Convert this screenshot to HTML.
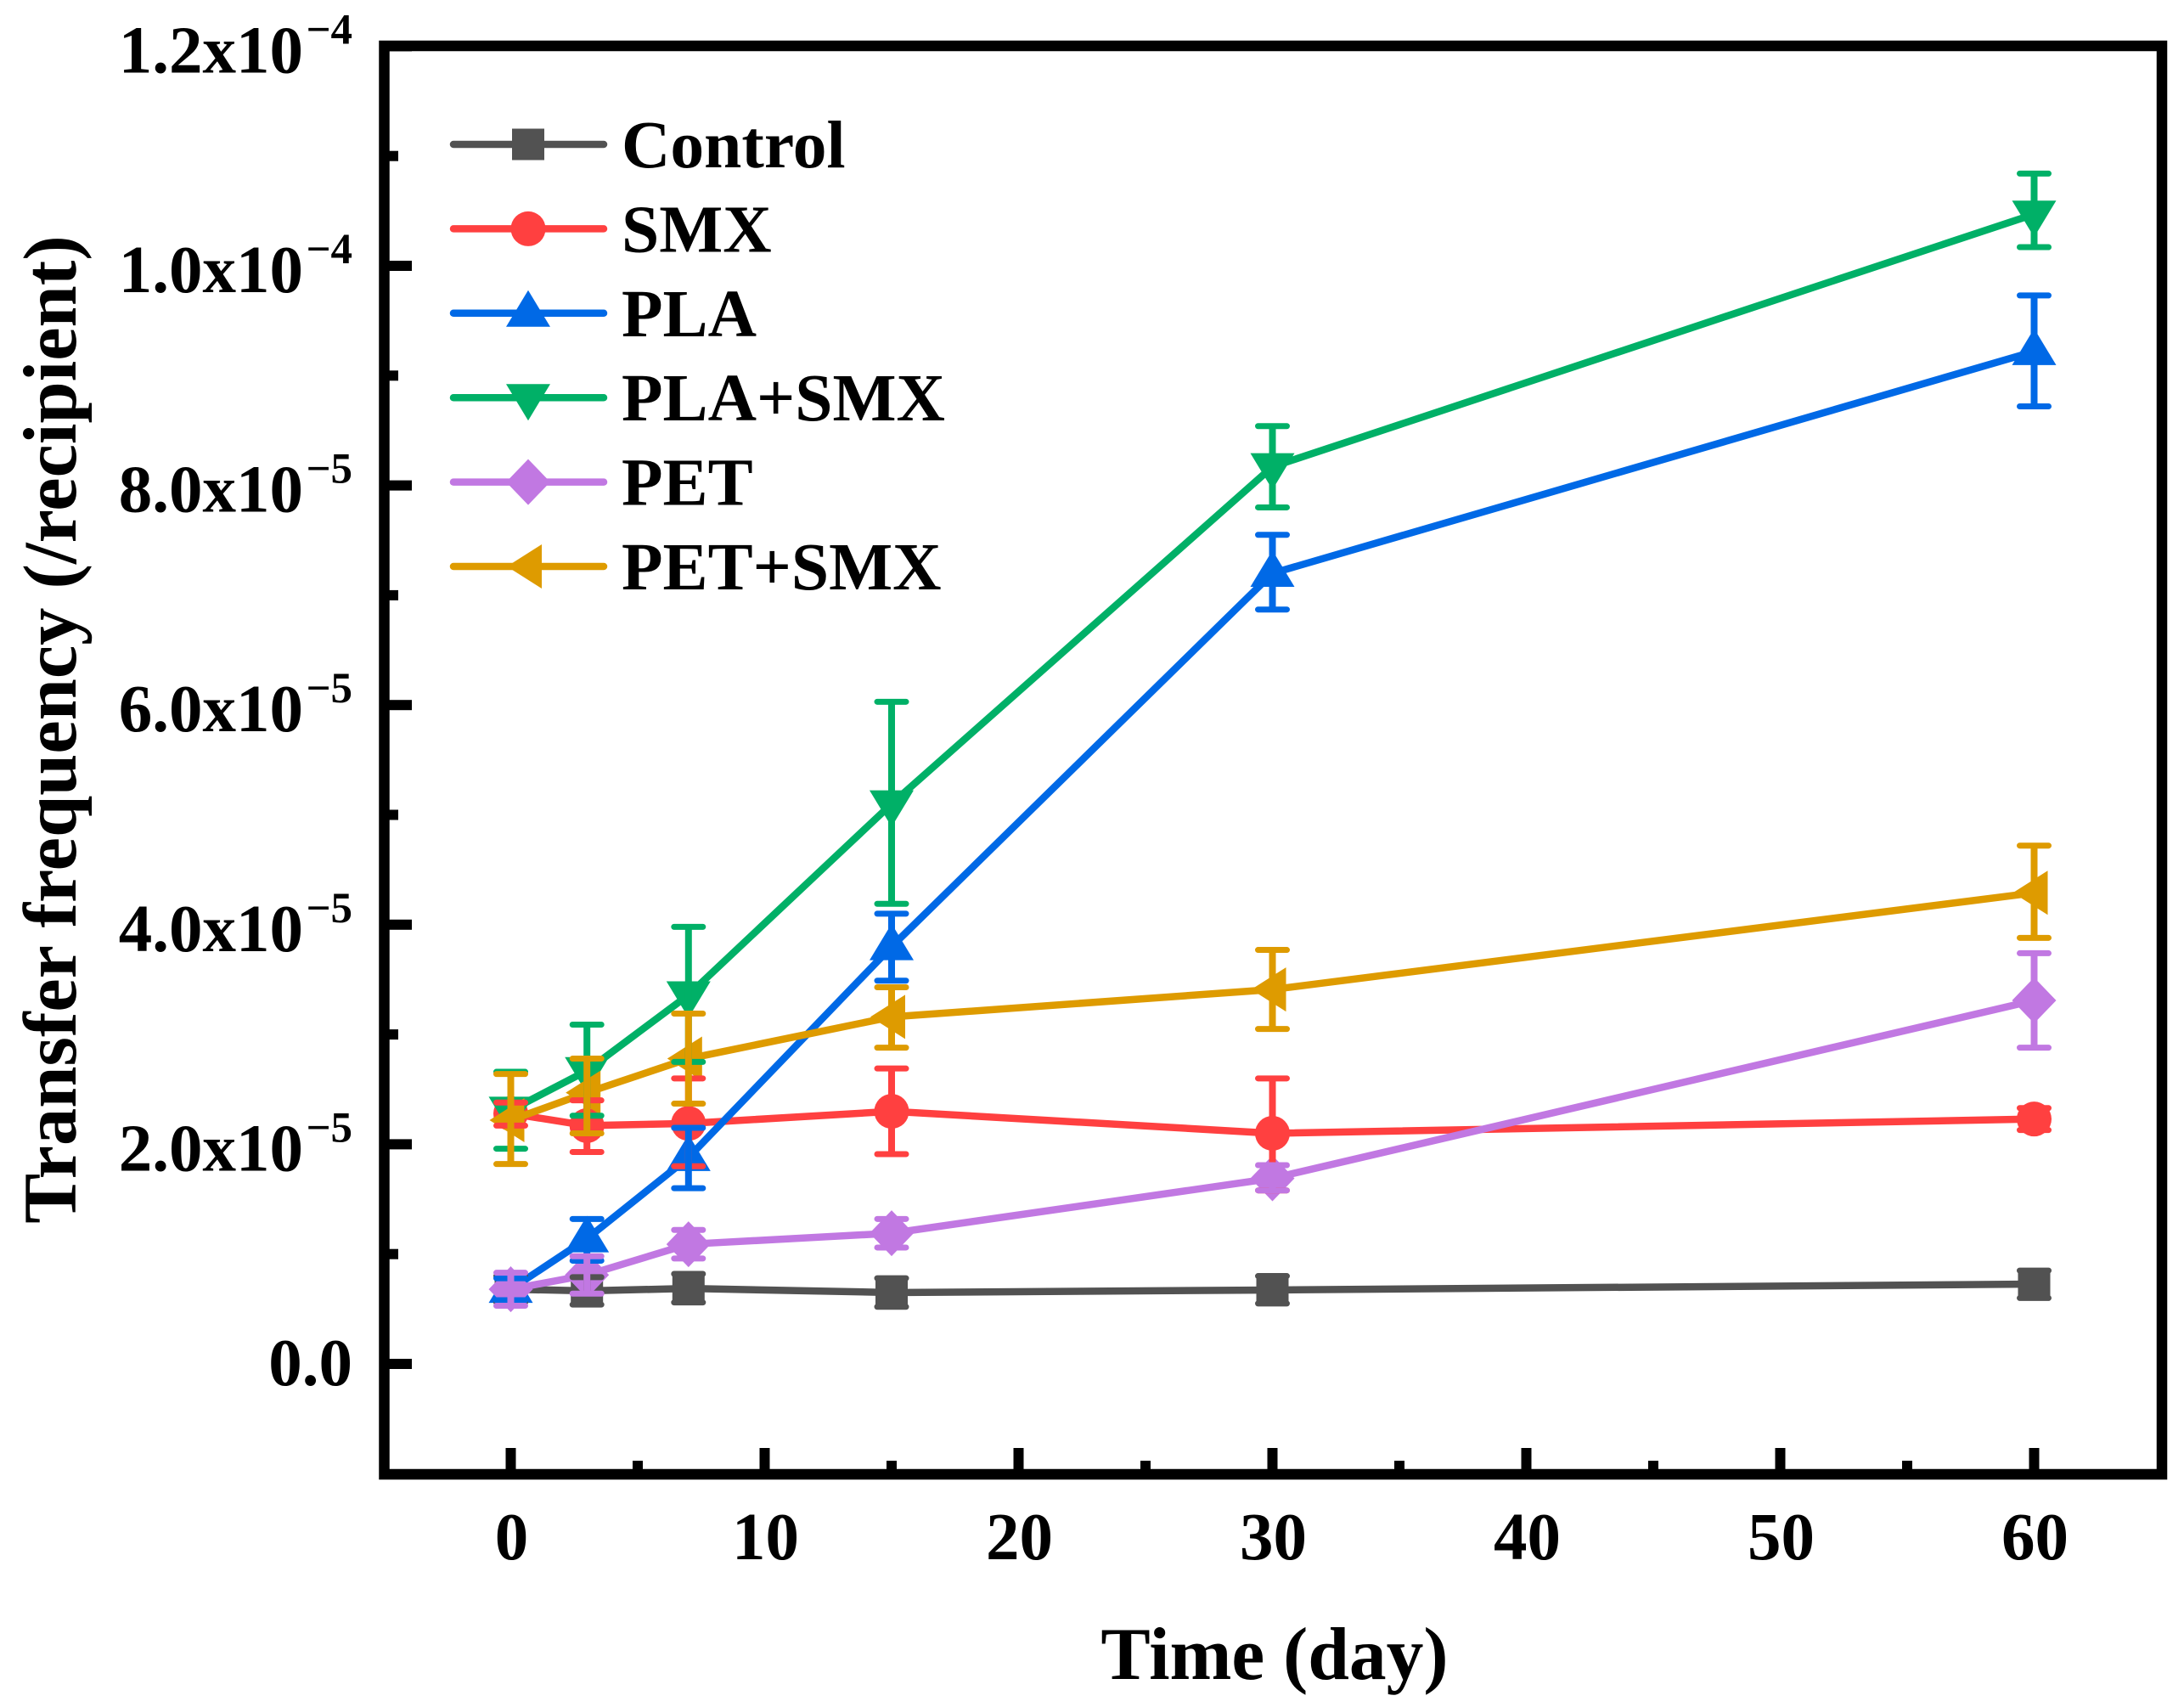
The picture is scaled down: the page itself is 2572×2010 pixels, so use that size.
<!DOCTYPE html>
<html lang="en">
<head>
<meta charset="utf-8">
<title>Transfer frequency over time</title>
<style>
  html, body { margin: 0; padding: 0; background: #fff; }
  svg { display: block; }
  text { font-family: "Liberation Serif", serif; font-weight: bold; fill: #000; }
</style>
</head>
<body>
<svg id="chart" xmlns="http://www.w3.org/2000/svg" width="2572" height="2010" viewBox="0 0 2572 2010">
  <rect x="0" y="0" width="2572" height="2010" fill="#fff"/>
  <g id="series-layer"></g>
  <g id="error-layer"></g>
  <g id="axis-layer"></g>
  <rect x="452.5" y="54" width="2093.5" height="1682" fill="none" stroke="#000" stroke-width="12.5"/>
  <text x="1501" y="1977" font-size="87.5" text-anchor="middle">Time (day)</text>
  <text transform="translate(89 859) rotate(-90)" x="0" y="0" font-size="88.5" text-anchor="middle">Transfer frequency (/recipient)</text>
  <g id="legend-layer"></g>
</svg>
<script>
const days = [0, 3, 7, 15, 30, 60];

const seriesNames = ["Control", "SMX", "PLA", "PLA+SMX", "PET", "PET+SMX"];

const controlMean = [0.68, 0.665, 0.687, 0.65, 0.673, 0.727];
const controlHigh = [0.80, 0.79, 0.82, 0.78, 0.80, 0.85];
const controlLow = [0.56, 0.54, 0.56, 0.52, 0.55, 0.60];

const smxMean = [2.28, 2.17, 2.19, 2.30, 2.10, 2.23];
const smxHigh = [2.38, 2.40, 2.60, 2.69, 2.60, 2.33];
const smxLow = [2.17, 1.93, 1.80, 1.91, 1.58, 2.13];

const plaMean = [0.68, 1.14, 1.88, 3.80, 7.20, 9.22];
const plaHigh = [0.78, 1.32, 2.15, 4.10, 7.55, 9.73];
const plaLow = [0.58, 0.94, 1.60, 3.49, 6.87, 8.72];

const plaSmxMean = [2.31, 2.67, 3.36, 5.10, 8.17, 10.47];
const plaSmxHigh = [2.66, 3.09, 3.98, 6.03, 8.54, 10.84];
const plaSmxLow = [1.96, 2.26, 2.75, 4.19, 7.80, 10.17];

const petMean = [0.68, 0.81, 1.09, 1.19, 1.69, 3.31];
const petHigh = [0.83, 0.98, 1.22, 1.32, 1.81, 3.74];
const petLow = [0.53, 0.64, 0.96, 1.06, 1.58, 2.88];

const petSmxMean = [2.22, 2.47, 2.78, 3.16, 3.41, 4.29];
const petSmxHigh = [2.64, 2.78, 3.19, 3.43, 3.77, 4.72];
const petSmxLow = [1.82, 2.10, 2.37, 2.88, 3.05, 3.88];

const xTickValues = [0, 10, 20, 30, 40, 50, 60];
const xMinorTickValues = [5, 15, 25, 35, 45, 55];
const yTickValues = [0, 2, 4, 6, 8, 10, 12];
const yTickLabels = ["0.0", "2.0x10", "4.0x10", "6.0x10", "8.0x10", "1.0x10", "1.2x10"];
const yTickExponents = ["", "\u22125", "\u22125", "\u22125", "\u22125", "\u22124", "\u22124"];
const yMinorTickValues = [1, 3, 5, 7, 9, 11];

const NS = "http://www.w3.org/2000/svg";
function xScale(day) { return 601.5 + (day - 0) * 29.9; }
function yScale(value) { return 1606 - value * 129.3; }

const seriesStyles = [
  { key: "control", color: "#525252", shape: "square" },
  { key: "smx", color: "#ff4040", shape: "circle" },
  { key: "pla", color: "#0069e6", shape: "up" },
  { key: "pla-smx", color: "#00b067", shape: "down" },
  { key: "pet", color: "#c178e2", shape: "diamond" },
  { key: "pet-smx", color: "#de9b00", shape: "left" }
];
const seriesMeans = [controlMean, smxMean, plaMean, plaSmxMean, petMean, petSmxMean];
const seriesHighs = [controlHigh, smxHigh, plaHigh, plaSmxHigh, petHigh, petSmxHigh];
const seriesLows = [controlLow, smxLow, plaLow, plaSmxLow, petLow, petSmxLow];

function make(tag, attrs, parent) {
  const el = document.createElementNS(NS, tag);
  Object.keys(attrs).forEach(function (k) { el.setAttribute(k, attrs[k]); });
  parent.appendChild(el);
  return el;
}

function shapePoints(shape, cx, cy) {
  if (shape === "square") return [[cx - 19, cy - 18.5], [cx + 19, cy - 18.5], [cx + 19, cy + 18.5], [cx - 19, cy + 18.5]];
  if (shape === "up") return [[cx, cy - 27], [cx + 26, cy + 16], [cx - 26, cy + 16]];
  if (shape === "down") return [[cx, cy + 27], [cx + 26, cy - 16], [cx - 26, cy - 16]];
  if (shape === "left") return [[cx - 25, cy], [cx + 16, cy - 26], [cx + 16, cy + 26]];
  return [[cx, cy - 27], [cx + 26, cy], [cx, cy + 27], [cx - 26, cy]];
}

function drawMarker(style, cx, cy, parent) {
  let el;
  if (style.shape === "circle") {
    el = make("circle", { cx: cx, cy: cy, r: 20.5, fill: style.color }, parent);
  } else {
    const pts = shapePoints(style.shape, cx, cy).map(function (p) { return p.join(","); }).join(" ");
    el = make("polygon", { points: pts, fill: style.color }, parent);
  }
  return el;
}

const seriesLayer = document.getElementById("series-layer");
const errorLayer = document.getElementById("error-layer");
const axisLayer = document.getElementById("axis-layer");
const legendLayer = document.getElementById("legend-layer");

seriesStyles.forEach(function (style, s) {
  const means = seriesMeans[s];
  const highs = seriesHighs[s];
  const lows = seriesLows[s];
  const group = make("g", {}, seriesLayer);
  
  
  const pts = days.map(function (d, i) { return xScale(d) + "," + yScale(means[i]); }).join(" ");
  const line = make("polyline", { points: pts, fill: "none", stroke: style.color, "stroke-width": 8.5, "stroke-linejoin": "round" }, group);
  
  
  days.forEach(function (d, i) {
    const marker = drawMarker(style, xScale(d), yScale(means[i]), group);
    
    

    const cx = xScale(d);
    const bar = make("path", {
      d: "M" + cx + " " + yScale(highs[i]) + "V" + yScale(lows[i]),
      fill: "none", stroke: style.color, "stroke-width": 8, "stroke-linecap": "butt"
    }, errorLayer);
    
    
    const caps = make("path", {
      d: "M" + (cx - 17) + " " + yScale(highs[i]) + "H" + (cx + 17) + "M" + (cx - 17) + " " + yScale(lows[i]) + "H" + (cx + 17),
      fill: "none", stroke: style.color, "stroke-width": 7, "stroke-linecap": "round"
    }, errorLayer);
    
    
  });
});

xTickValues.forEach(function (v) {
  const tick = make("rect", { x: xScale(v) - 6, y: 1705, width: 12, height: 26, fill: "#000" }, axisLayer);
  
  
  const label = make("text", { x: xScale(v) + 1, y: 1836, "font-size": 79, "text-anchor": "middle" }, axisLayer);
  label.textContent = String(v);
  
  
});
xMinorTickValues.forEach(function (v) {
  const tick = make("rect", { x: xScale(v) - 6, y: 1720, width: 12, height: 11, fill: "#000" }, axisLayer);
  
  
});
yTickValues.forEach(function (v, i) {
  const tick = make("rect", { x: 458, y: yScale(v) - 6, width: 27, height: 12, fill: "#000" }, axisLayer);
  
  
  const hasExp = yTickExponents[i] !== "";
  const label = make("text", {
    x: hasExp ? 357 : 415,
    y: yScale(v) + (hasExp ? 31 : 25),
    "font-size": 79,
    "text-anchor": "end"
  }, axisLayer);
  label.textContent = yTickLabels[i];
  
  
  if (hasExp) {
    const exp = make("text", { x: 415, y: yScale(v) - 3, "font-size": 51, "text-anchor": "end" }, axisLayer);
    exp.textContent = yTickExponents[i];
    
    
  }
});
yMinorTickValues.forEach(function (v) {
  const tick = make("rect", { x: 458, y: yScale(v) - 6, width: 11, height: 12, fill: "#000" }, axisLayer);
  
  
});

seriesStyles.forEach(function (style, s) {
  const rowY = 170 + s * 99.4;
  const entry = make("g", {}, legendLayer);
  
  
  const swatch = make("line", { x1: 534, x2: 711, y1: rowY, y2: rowY, stroke: style.color, "stroke-width": 8.5, "stroke-linecap": "round" }, entry);
  
  
  const marker = drawMarker(style, 622, rowY, entry);
  
  
  const label = make("text", { x: 732, y: rowY + 27, "font-size": 79.5 }, entry);
  label.textContent = seriesNames[s];
  
  
});
</script>
</body>
</html>
